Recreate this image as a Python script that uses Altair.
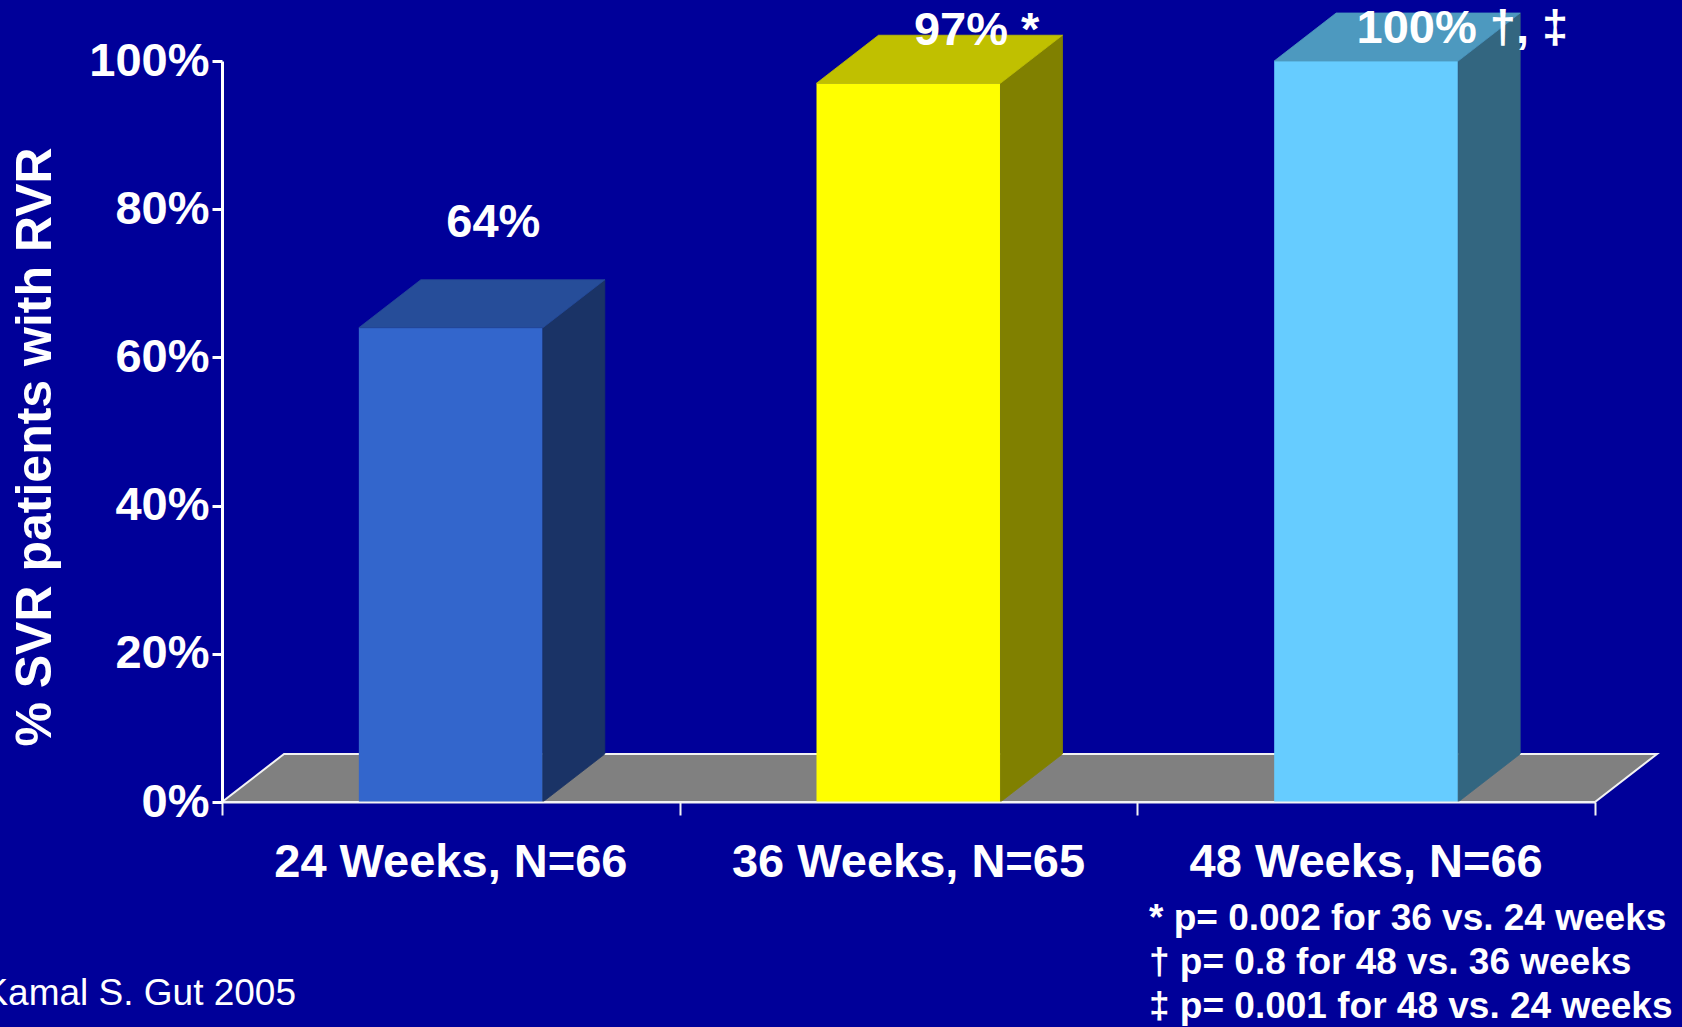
import altair as alt
import pandas as pd

# Sustained response by treatment duration among rapid responders
categories = ["24 Weeks, N=66", "36 Weeks, N=65", "48 Weeks, N=66"]
svr_pct = [64, 97, 100]
markers = ["", " *", " †, ‡"]
footnotes = [
    "* p= 0.002 for 36 vs. 24 weeks",
    "† p= 0.8 for 48 vs. 36 weeks",
    "‡ p= 0.001 for 48 vs. 24 weeks",
]
source_note = "Kamal S. Gut 2005"
y_ticks = [0, 20, 40, 60, 80, 100]

front_colors = ["#3366CC", "#FFFF00", "#66CCFF"]
top_colors = ["#264D99", "#C0C000", "#4D99BF"]
side_colors = ["#1A3366", "#808000", "#336680"]

BG = "#000099"
FONT = "Liberation Sans"
W, H = 1373, 741
HALF_BAR = 0.201          # half bar width, in category units
DX = 62 / (W / 3)         # depth offset, x direction (category units)
DY = 48 / H * 100         # depth offset, y direction (percent units)

x_scale = alt.Scale(domain=[0, 3], nice=False, zero=False)
y_scale = alt.Scale(domain=[0, 100], nice=False)

# Faces of each box
front_rows, side_rows, top_rows = [], [], []
for i, (cat, v) in enumerate(zip(categories, svr_pct)):
    x0, x1 = i + 0.5 - HALF_BAR, i + 0.5 + HALF_BAR
    front_rows.append(dict(cat=cat, x0=x0, x1=x1, lo=0, hi=v, c=front_colors[i]))
    side_rows += [
        dict(cat=cat, x=x1, lo=0, hi=v, c=side_colors[i]),
        dict(cat=cat, x=x1 + DX, lo=DY, hi=v + DY, c=side_colors[i]),
    ]
    top_rows += [
        dict(cat=cat, y=v, xa=x0, xb=x1, c=top_colors[i]),
        dict(cat=cat, y=v + DY, xa=x0 + DX, xb=x1 + DX, c=top_colors[i]),
    ]
front_df = pd.DataFrame(front_rows)
side_df = pd.DataFrame(side_rows)
top_df = pd.DataFrame(top_rows)
floor_df = pd.DataFrame([
    dict(y=0, xa=0, xb=3),
    dict(y=DY, xa=DX, xb=3 + DX),
])

floor = alt.Chart(floor_df).mark_area(
    orient="horizontal", fill="#808080", stroke="#F2F2F2", strokeWidth=2
).encode(
    y=alt.Y("y:Q", scale=y_scale,
            axis=alt.Axis(values=y_ticks, labelExpr="datum.value + '%'",
                          title=None, grid=False, domainColor="white",
                          domainWidth=3, tickColor="white", tickWidth=3,
                          tickSize=10, labelColor="white", labelFont=FONT,
                          labelFontWeight="bold", labelFontSize=47,
                          labelPadding=3, zindex=1)),
    x=alt.X("xa:Q", scale=x_scale,
            axis=alt.Axis(values=[0, 1, 2, 3], labels=False, title=None,
                          grid=False, domainColor="#F2F2F2", domainWidth=2,
                          tickColor="#F2F2F2", tickWidth=2, tickSize=13,
                          zindex=1)),
    x2="xb:Q",
)

fronts = alt.Chart(front_df).mark_bar().encode(
    x=alt.X("x0:Q", scale=x_scale),
    x2="x1:Q",
    y=alt.Y("lo:Q", scale=y_scale),
    y2="hi:Q",
    color=alt.Color("c:N", scale=None),
)

sides = alt.Chart(side_df).mark_area(orient="vertical", strokeWidth=0.8).encode(
    x=alt.X("x:Q", scale=x_scale),
    y=alt.Y("hi:Q", scale=y_scale),
    y2="lo:Q",
    color=alt.Color("c:N", scale=None),
    stroke=alt.Stroke("c:N", scale=None),
    detail="cat:N",
)

tops = alt.Chart(top_df).mark_area(orient="horizontal", strokeWidth=0.8).encode(
    y=alt.Y("y:Q", scale=y_scale),
    x=alt.X("xa:Q", scale=x_scale),
    x2="xb:Q",
    color=alt.Color("c:N", scale=None),
    stroke=alt.Stroke("c:N", scale=None),
    detail="cat:N",
)

# Category labels under the axis
cat_df = pd.DataFrame(dict(cat=categories, xc=[i + 0.5 for i in range(3)], y0=0))
cat_labels = alt.Chart(cat_df).mark_text(
    font=FONT, fontWeight="bold", fontSize=47, color="white",
    align="center", baseline="alphabetic", dy=75,
).encode(x=alt.X("xc:Q", scale=x_scale), y=alt.Y("y0:Q", scale=y_scale), text="cat:N")

# Value labels above each box (pixel nudges per box)
label_nudges = [(0, -91), (10, -38), (-5, -18)]
value_layers = []
for i, v in enumerate(svr_pct):
    d = pd.DataFrame(dict(xc=[i + 0.49], v=[v], t=[f"{v}%{markers[i]}"]))
    ndx, ndy = label_nudges[i]
    value_layers.append(
        alt.Chart(d).mark_text(
            font=FONT, fontWeight="bold", fontSize=47, color="white",
            align="left", baseline="alphabetic", dx=ndx, dy=ndy,
        ).encode(x=alt.X("xc:Q", scale=x_scale), y=alt.Y("v:Q", scale=y_scale), text="t:N")
    )

# Axis title, footnotes and source
anno_df = pd.DataFrame(dict(k=[0]))
y_title = alt.Chart(anno_df).mark_text(
    text="% SVR patients with RVR", font=FONT, fontWeight="bold", fontSize=50,
    color="white", angle=270, align="center", baseline="middle",
).encode(x=alt.value(-186), y=alt.value(386))

note_layers = []
for k, line in enumerate(footnotes):
    note_layers.append(
        alt.Chart(anno_df).mark_text(
            text=line, font=FONT, fontWeight="bold", fontSize=37, color="white",
            align="left", baseline="alphabetic",
        ).encode(x=alt.value(927), y=alt.value(869 + 44 * k))
    )

source = alt.Chart(anno_df).mark_text(
    text=source_note, font=FONT, fontSize=37, color="white",
    align="right", baseline="alphabetic",
).encode(x=alt.value(74), y=alt.value(944))

chart = alt.layer(
    floor, fronts, sides, tops, cat_labels, *value_layers, y_title, *note_layers, source
).properties(
    width=W, height=H,
    padding={"left": 222, "top": 61, "right": 87, "bottom": 225},
    autosize=alt.AutoSizeParams(type="none"),
    background=BG,
).configure_view(stroke=None)

chart.save("out.html", embed_options={"renderer": "svg", "actions": False})
